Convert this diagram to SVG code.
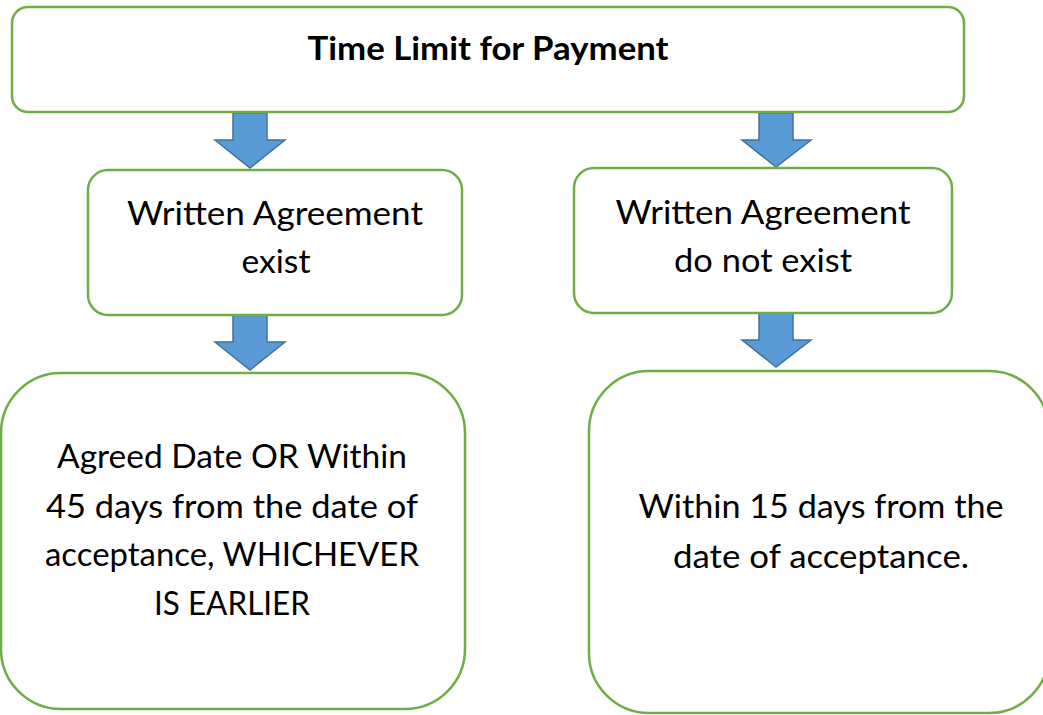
<svg xmlns="http://www.w3.org/2000/svg" width="1043" height="715" viewBox="0 0 1043 715">
<style>
.box{fill:#fff;stroke:#70AD47;stroke-width:2.5}
.arr{fill:#5B9BD5;stroke:#41719C;stroke-width:1.5;stroke-linejoin:miter}
text{font-family:Lato,"Open Sans",sans-serif;fill:#000;text-anchor:middle}
.t{font-size:33px}
.h{font-size:33px;font-weight:bold}
</style>
<rect width="1043" height="715" fill="#fff"/>
<g id="connectors">
<path class="arr" d="M233,113H267V140H285L250,168L215,140H233Z"/>
<path class="arr" d="M759,113H793V140H811L776,167L742,140H759Z"/>
<path class="arr" d="M233,315H267V342H285L250,370L215,342H233Z"/>
<path class="arr" d="M759,313H793V340H811L776,367L742,340H759Z"/>
</g>
<g id="title">
<rect class="box" x="12" y="7" width="952" height="105" rx="16"/>
<text class="h" x="488" y="60" textLength="361" lengthAdjust="spacingAndGlyphs">Time Limit for Payment</text>
</g>
<g id="written-exist">
<rect class="box" x="88" y="170" width="374" height="145" rx="20"/>
<text class="t" x="275" y="225" textLength="296" lengthAdjust="spacingAndGlyphs">Written Agreement</text>
<text class="t" x="276" y="273" textLength="69" lengthAdjust="spacingAndGlyphs">exist</text>
</g>
<g id="written-not-exist">
<rect class="box" x="574" y="168" width="378" height="145" rx="20"/>
<text class="t" x="763" y="224" textLength="295" lengthAdjust="spacingAndGlyphs">Written Agreement</text>
<text class="t" x="763" y="272" textLength="178" lengthAdjust="spacingAndGlyphs">do not exist</text>
</g>
<g id="agreed-date">
<rect class="box" x="1" y="373" width="464" height="336" rx="60"/>
<text class="t" x="232" y="468" textLength="350" lengthAdjust="spacingAndGlyphs">Agreed Date OR Within</text>
<text class="t" x="232" y="518" textLength="372" lengthAdjust="spacingAndGlyphs">45 days from the date of</text>
<text class="t" x="232" y="566" textLength="374" lengthAdjust="spacingAndGlyphs">acceptance, WHICHEVER</text>
<text class="t" x="232" y="615" textLength="156" lengthAdjust="spacingAndGlyphs">IS EARLIER</text>
</g>
<g id="within-15">
<rect class="box" x="589" y="371" width="460" height="342" rx="60"/>
<text class="t" x="821" y="518" textLength="365" lengthAdjust="spacingAndGlyphs">Within 15 days from the</text>
<text class="t" x="821" y="568" textLength="296" lengthAdjust="spacingAndGlyphs">date of acceptance.</text>
</g>
</svg>
